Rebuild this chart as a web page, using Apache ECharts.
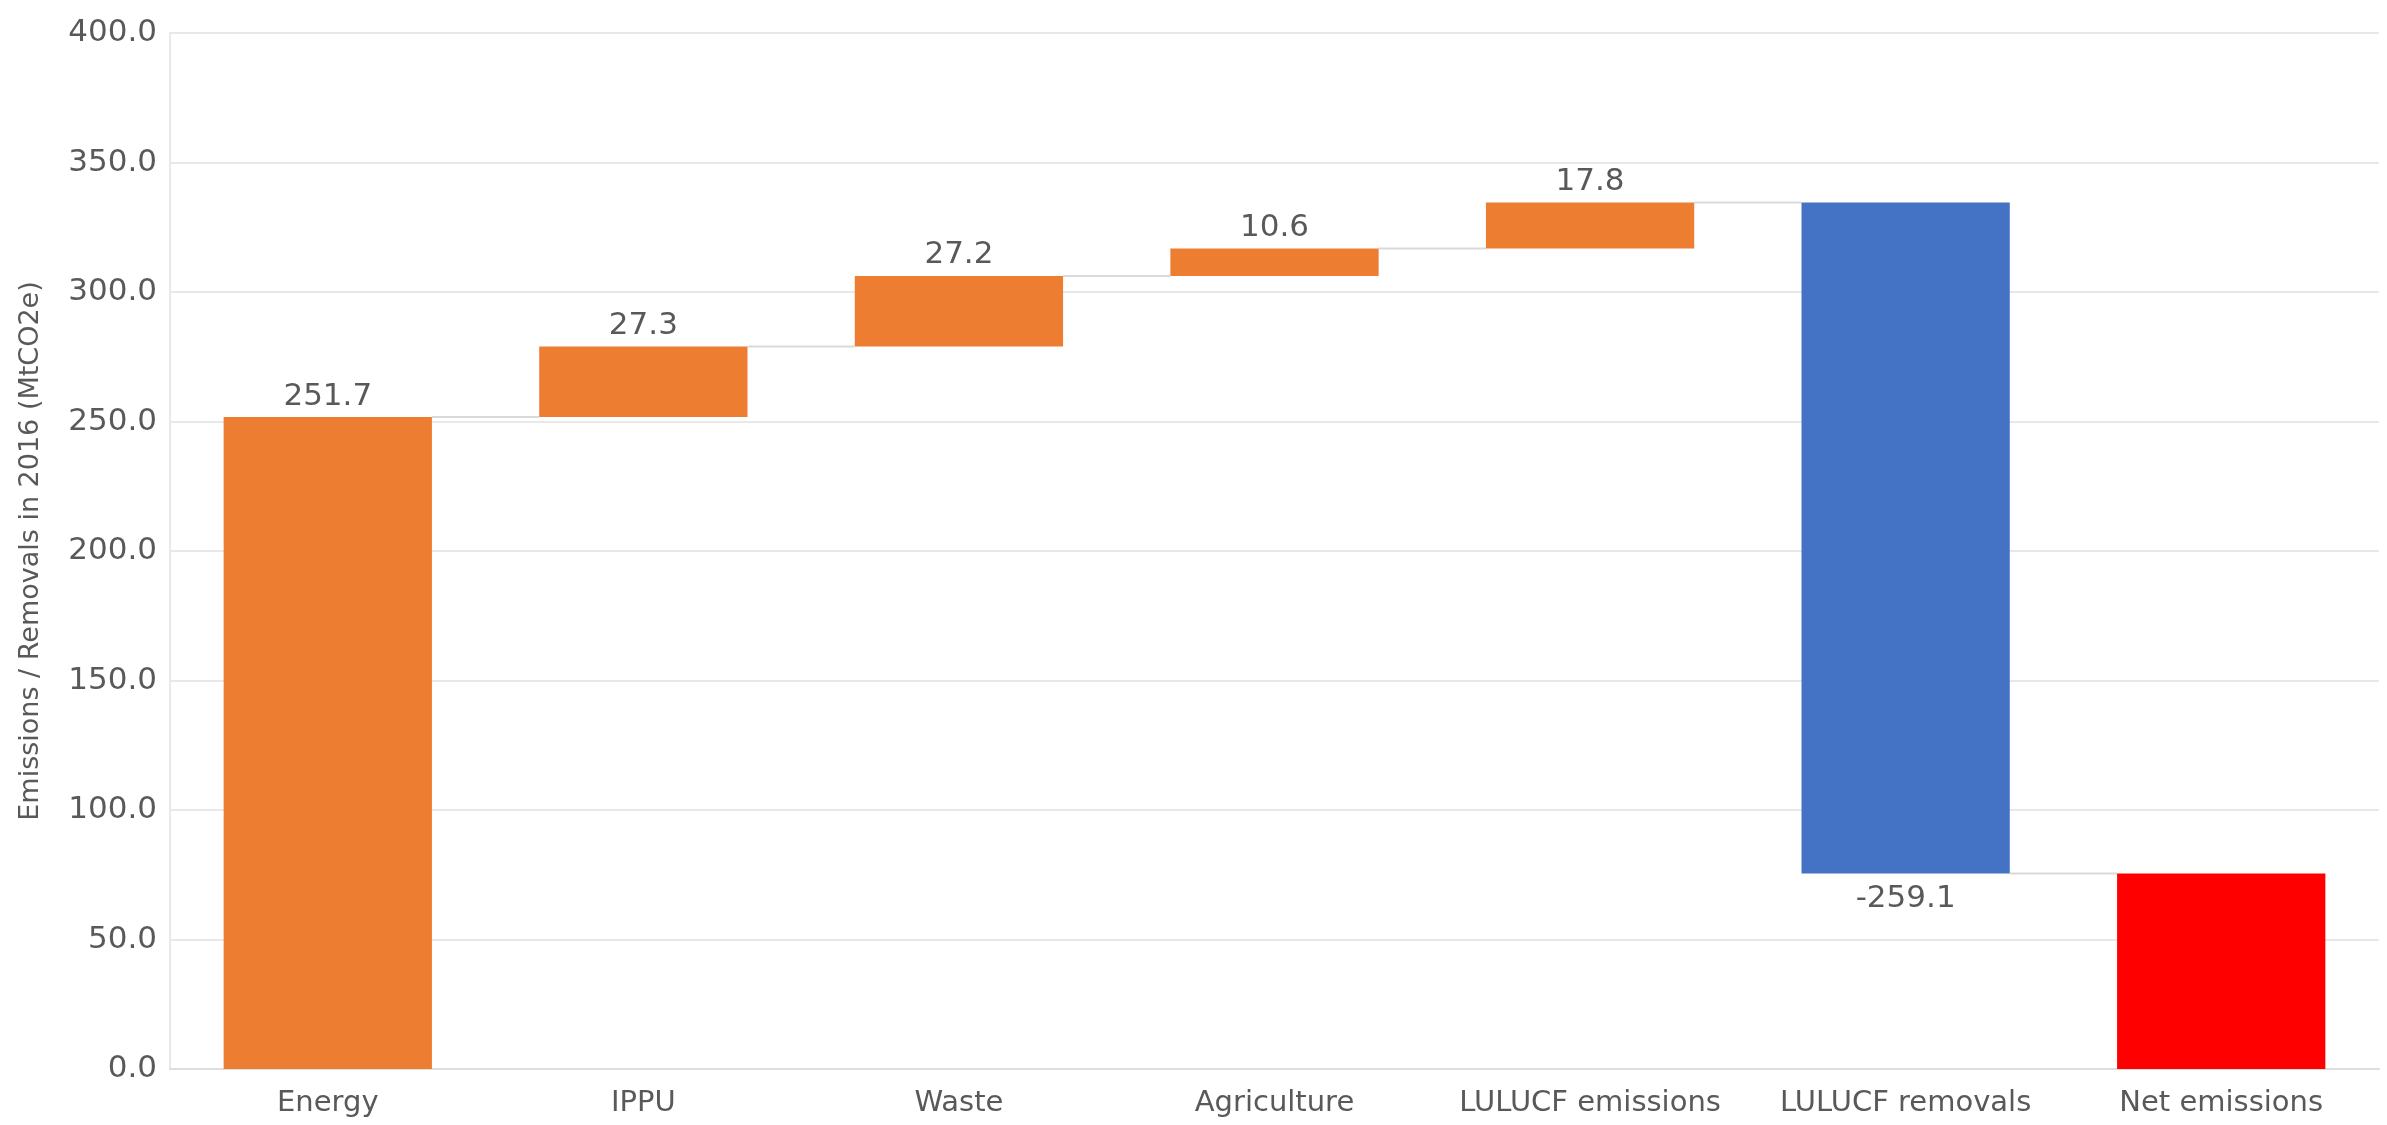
<!DOCTYPE html>
<html>
<head>
<meta charset="utf-8">
<title>Emissions / Removals in 2016</title>
<script src="https://cdn.jsdelivr.net/npm/echarts@6/dist/echarts.min.js"></script>
<style>
  html, body { margin: 0; padding: 0; background: #ffffff; }
  #chart { width: 2387px; height: 1125px; }
</style>
</head>
<body>
<div id="chart"></div>
<script>
// Sector contributions (MtCO2e), 2016
const categories = ['Energy', 'IPPU', 'Waste', 'Agriculture', 'LULUCF emissions', 'LULUCF removals', 'Net emissions'];
const steps = [251.7, 27.3, 27.2, 10.6, 17.8, -259.1];
const stepColors = ['#ED7D31', '#ED7D31', '#ED7D31', '#ED7D31', '#ED7D31', '#4472C4'];
const totalColor = '#FF0000';
const yTicks = { min: 0, max: 400, interval: 50 };

// Waterfall geometry: invisible base + visible segment
const baseData = [];
const segData = [];
const levels = [];
let running = 0;
steps.forEach((v, i) => {
  const next = running + v;
  baseData.push(Math.min(running, next));
  segData.push({
    value: Math.abs(v),
    itemStyle: { color: stepColors[i] },
    label: {
      show: true,
      position: v >= 0 ? 'top' : 'bottom',
      distance: v >= 0 ? 5 : 10,
      formatter: () => v.toFixed(1)
    }
  });
  running = Math.round(next * 10) / 10;
  levels.push(running);
});
// closing total bar
baseData.push(0);
segData.push({ value: running, itemStyle: { color: totalColor }, label: { show: false } });

const BAR_FRACTION = 0.66;
const connectorData = levels.map((lv, i) => [i, lv]);

const textColor = '#595959';
const fontFamily = 'DejaVu Sans';

const chart = echarts.init(document.getElementById('chart'), null, { renderer: 'canvas' });
chart.setOption({
  animation: false,
  backgroundColor: '#ffffff',
  grid: { left: 170, right: 8, top: 33, bottom: 56, containLabel: false },
  xAxis: {
    type: 'category',
    data: categories,
    axisLine: { show: true, lineStyle: { color: '#dedede', width: 2 } },
    axisTick: { show: false },
    axisLabel: { color: textColor, fontFamily: fontFamily, fontSize: 29, margin: 20, interval: 0 },
    splitLine: { show: false }
  },
  yAxis: {
    type: 'value',
    min: yTicks.min,
    max: yTicks.max,
    interval: yTicks.interval,
    name: 'Emissions / Removals in 2016 (MtCO2e)',
    nameLocation: 'middle',
    nameRotate: 90,
    nameGap: 126,
    nameTextStyle: { color: textColor, fontFamily: fontFamily, fontSize: 27 },
    axisLine: { show: true, lineStyle: { color: '#e8e8e8', width: 2 } },
    axisTick: { show: false },
    axisLabel: {
      color: textColor, fontFamily: fontFamily, fontSize: 31, margin: 13,
      formatter: v => v.toFixed(1)
    },
    splitLine: { show: true, lineStyle: { color: '#e8e8e8', width: 2 } }
  },
  series: [
    {
      type: 'bar',
      stack: 'wf',
      data: baseData,
      barWidth: (BAR_FRACTION * 100) + '%',
      itemStyle: { color: 'transparent' },
      emphasis: { disabled: true },
      silent: true
    },
    {
      type: 'bar',
      stack: 'wf',
      data: segData,
      barWidth: (BAR_FRACTION * 100) + '%',
      label: { color: textColor, fontFamily: fontFamily, fontSize: 31 },
      emphasis: { disabled: true }
    },
    {
      // connector lines between consecutive bars
      type: 'custom',
      data: connectorData,
      silent: true,
      z: 1,
      renderItem: (params, api) => {
        const i = api.value(0);
        const lv = api.value(1);
        const p = api.coord([i, lv]);
        const q = api.coord([i + 1, lv]);
        const half = api.size([1, 0])[0] * BAR_FRACTION / 2;
        return {
          type: 'line',
          shape: { x1: p[0] + half, y1: p[1], x2: q[0] - half, y2: q[1] },
          style: { stroke: '#d9d9d9', lineWidth: 2 }
        };
      }
    }
  ]
});
</script>
</body>
</html>
